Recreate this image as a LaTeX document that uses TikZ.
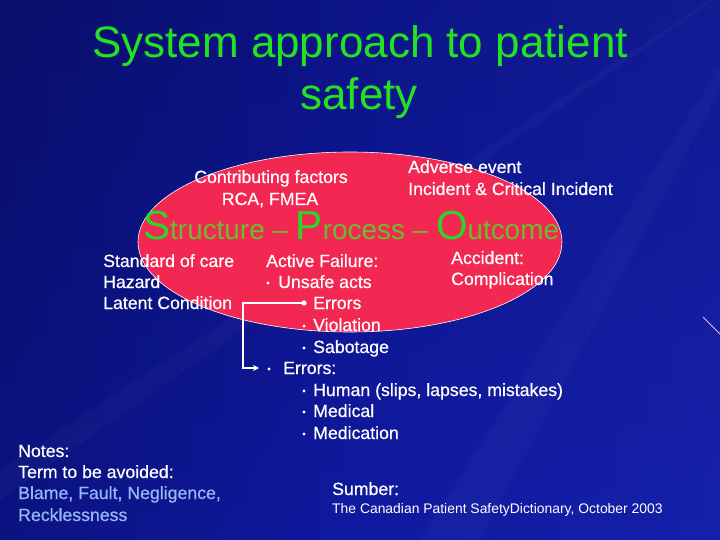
\documentclass[tikz,border=0pt]{standalone}
\usepackage{fontspec}
\setmainfont{Liberation Sans}
\newfontfamily\heavy[FakeBold=0.6]{Liberation Sans}
\usetikzlibrary{arrows.meta}
\definecolor{bgdark}{RGB}{8,14,105}
\definecolor{bgmid}{RGB}{16,26,160}
\definecolor{bglight}{RGB}{26,38,180}
\definecolor{ellred}{RGB}{242,40,82}
\definecolor{titlegreen}{RGB}{34,226,34}
\definecolor{biggreen}{RGB}{40,215,40}
\definecolor{olivegreen}{RGB}{105,190,45}
\definecolor{noteblue}{RGB}{150,182,248}
\newcommand\bigL[1]{{\fontsize{40.5}{40}\selectfont\color{biggreen}#1}}
\newcommand\smL[1]{{\fontsize{27.9}{28}\selectfont\color{olivegreen}#1}}
\begin{document}
\begin{tikzpicture}[x=1pt,y=-1pt,
  txt/.style={text=white, inner sep=0pt, anchor=base west, font=\heavy\fontsize{17.7}{20}\selectfont},
  ctxt/.style={txt, anchor=base},
  note/.style={txt, text=noteblue},
  small/.style={txt, font=\fontsize{13.9}{16}\selectfont},
  title/.style={text=titlegreen, inner sep=0pt, anchor=base, font=\fontsize{44}{50}\selectfont},
  bulletdot/.style={fill=white},
  link/.style={draw=white, line width=1.2pt, -{Stealth[length=6pt,width=6pt]}}]
\useasboundingbox (0,0) rectangle (720,540);
% background
\shade[left color=bgdark, right color=bglight, middle color=bgmid] (0,0) rectangle (720,540);
\shade[top color=bgdark, bottom color=bgmid, opacity=0.45] (0,0) rectangle (720,540);
\fill[white, opacity=0.025] (800,-60) -- (0,470) -- (0,500) -- cycle;
\fill[white, opacity=0.03] (800,-60) -- (720,380) -- (720,420) -- cycle;
\fill[white, opacity=0.025] (800,-60) -- (420,540) -- (480,540) -- cycle;
\fill[white, opacity=0.03] (800,-60) -- (720,150) -- (720,200) -- cycle;
\draw[white!75!violet, line width=0.8pt] (703,317) -- (720,334);
% title
\node[title] (t1) at (360,58) {System approach to patient};
\node[title] (t2) at (359,110) {safety};
% ellipse
\draw[white, fill=ellred, line width=0.6pt] (350,242) ellipse [x radius=212, y radius=90];
% ellipse texts
\node[ctxt] (cf) at (271,183) {Contributing factors};
\node[ctxt] (rca) at (270,205) {RCA, FMEA};
\node[txt] (ae) at (408,173) {Adverse event};
\node[txt] (icr) at (408,195) {Incident \& Critical Incident};
\node[inner sep=0pt, anchor=base west] (spo) at (143,240)
  {\bigL{S}\smL{tructure – }\bigL{P}\smL{rocess – }\bigL{O}\smL{utcome}};
% left column
\node[txt] (soc) at (103,267) {Standard of care};
\node[txt] (haz) at (103,288) {Hazard};
\node[txt] (lat) at (103,309) {Latent Condition};
% middle column
\node[txt] (af) at (266,267) {Active Failure:};
\node[txt] (ua) at (278,288) {Unsafe acts};
\node[txt] (err1) at (313,309) {Errors};
\node[txt] (vio) at (313,331) {Violation};
\node[txt] (sab) at (313,353) {Sabotage};
\node[txt] (err2) at (283,374) {Errors:};
\node[txt] (hum) at (313,396) {Human (slips, lapses, mistakes)};
\node[txt] (med) at (313,417) {Medical};
\node[txt] (medn) at (313,439) {Medication};
% bullets
\fill[bulletdot] (268,283) circle (1.6);
\fill[bulletdot] (304,326) circle (1.6);
\fill[bulletdot] (304,348) circle (1.6);
\fill[bulletdot] (269,369) circle (1.6);
\fill[bulletdot] (304,391) circle (1.6);
\fill[bulletdot] (304,412) circle (1.6);
\fill[bulletdot] (304,434) circle (1.6);
% right column
\node[txt] (acc) at (451,264) {Accident:};
\node[txt] (comp) at (451,285) {Complication};
% connector
\coordinate (errdot) at (304,303);
\coordinate (corner) at (243,303);
\coordinate (errtarget) at (259,368);
\fill[white] (errdot) circle (2.6);
\draw[link] (errdot) -- (corner) |- (errtarget);
% notes
\node[txt] (n1) at (18,457) {Notes:};
\node[txt] (n2) at (18,478) {Term to be avoided:};
\node[note] (n3) at (18,499) {Blame, Fault, Negligence,};
\node[note] (n4) at (18,521) {Recklessness};
% source
\node[txt] (sb) at (332,495) {Sumber:};
\node[small] (src) at (332,513) {The Canadian Patient SafetyDictionary, October 2003};
\end{tikzpicture}
\end{document}
